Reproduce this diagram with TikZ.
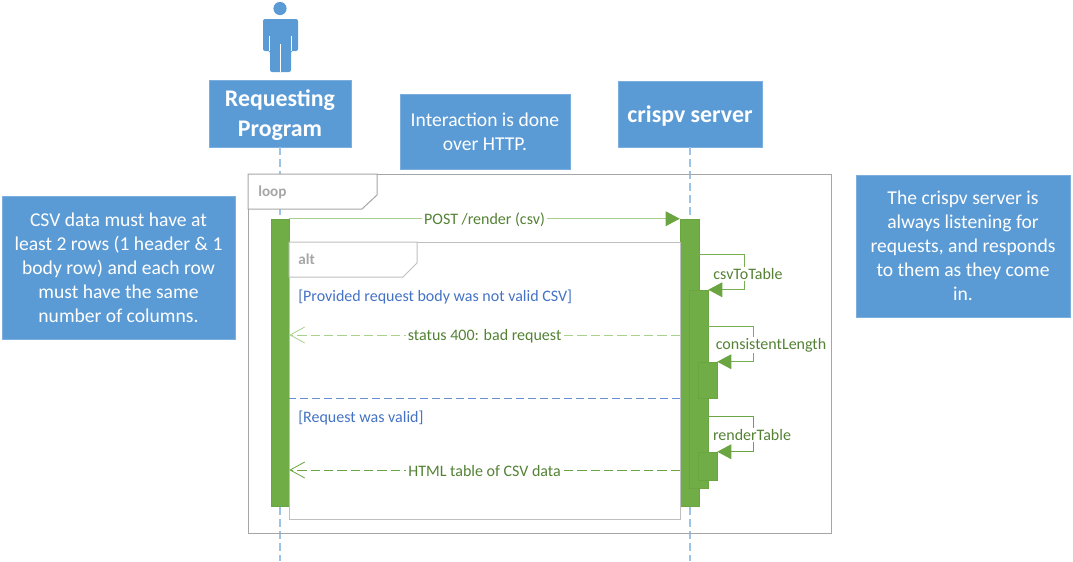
\documentclass[tikz,border=0pt]{standalone}
\usepackage{fontspec}
\setmainfont{Carlito}
\usetikzlibrary{fit,calc,arrows.meta}
\definecolor{noteblue}{RGB}{91,155,213}
\definecolor{lifeblue}{RGB}{157,195,230}
\definecolor{barGreen}{RGB}{112,173,71}
\definecolor{tipGreen}{RGB}{106,165,66}
\definecolor{msgGreen}{RGB}{169,209,142}
\definecolor{msgText}{RGB}{84,130,53}
\definecolor{guardBlue}{RGB}{68,114,196}
\definecolor{frameGray}{RGB}{166,166,166}
\newcommand\spanbox[4][bar]{
  \path (#2) coordinate (#4-a) (#3) coordinate (#4-b);
  \node[#1, fit={(#4-a) (#4-b)}] (#4) {};
}
\newcommand\notebox[5][notetext]{
  \path (#2) coordinate (#5-a) (#3) coordinate (#5-b);
  \node[note, fit={(#5-a) (#5-b)}, label={[#1]center:{#4}}] (#5) {};
}

\begin{document}
\begin{tikzpicture}[x=0.75pt,y=-0.75pt,
    note/.style={
      fill=noteblue,
      draw=noteblue!80!white,
      inner sep=0pt
    },
    notetext/.style={
      align=center,
      text=white,
      font={\fontsize{14.7}{18}\selectfont}
    },
    headtext/.style={
      align=center,
      text=white,
      yshift=-1.5pt,
      font={\bfseries\fontsize{17.9}{22.5}\selectfont}
    },
    lifeline/.style={draw=lifeblue,line width=1pt,dash pattern=on 6pt off 3pt},
    frame/.style={draw=#1,line width=0.75pt,inner sep=0pt},
    frame/.default=frameGray,
    tab/.style={draw=#1,line width=0.75pt,fill=white},
    tab/.default=frameGray,
    tablabel/.style={text=frameGray,anchor=west,inner sep=0pt,font={\bfseries\fontsize{11.4}{13}\selectfont}},
    bar/.style={fill=barGreen,draw=tipGreen,line width=0.4pt,inner sep=0pt},
    msg/.style={draw=#1,line width=0.75pt},
    msg/.default=msgGreen,
    msglabel/.style={fill=white,text=msgText,inner sep=1.5pt,yshift=-0.75pt,font={\fontsize{12}{14}\selectfont}},
    guard/.style={text=guardBlue,anchor=west,inner sep=0pt,font={\fontsize{12}{14}\selectfont}},
    filled/.style={-{Triangle[length=10.5pt,width=11pt,color=tipGreen]}},
    open/.style={-{Straight Barb[length=11pt,width=12pt,line width=0.6pt]}}
  ]
  \useasboundingbox (0,0) rectangle (1073,561);

  % actor
  \fill[noteblue] (280,8.5) circle (6.6);
  \fill[noteblue,rounded corners=1.5pt] (263,51) -- (263,19) -- (298,19) -- (298,51) -- (291,51) -- (291,72) -- (270,72) -- (270,51) -- cycle;
  \draw[white,line width=0.5pt] (269.5,36) -- (269.5,51) (291,36) -- (291,51) (280.5,44) -- (280.5,72);

  % heads and notes
  \notebox[headtext]{209,80}{351,147}{Requesting\\Program}{requester}
  \notebox[headtext]{618,81}{762,147}{crispv server}{server}
  \notebox{400,94}{570,169}{Interaction is done\\over HTTP.}{httpnote}
  \notebox{2,196}{235,339}{CSV data must have at\\least 2 rows (1 header \& 1\\body row) and each row\\must have the same\\number of columns.}{csvnote}
  \notebox{856,175}{1070,317}{The crispv server is\\always listening for\\requests, and responds\\to them as they come\\in.}{listennote}

  % lifelines
  \coordinate (requester-end) at (280,561);
  \coordinate (server-end) at (690,561);
  \draw[lifeline] (requester.south) -- (requester-end);
  \draw[lifeline] (server.south) -- (server-end);

  % loop
  \spanbox[frame]{248,174}{831,533}{loopframe}
  \draw[tab] (248,174) -- (377,174) -- (377,195) -- (362,209) -- (248,209) -- cycle;
  \node[tablabel] (looplabel) at (258,192) {loop};

  % activations
  \spanbox{271,219}{289,506}{requester-bar}
  \spanbox{680,219}{699,506}{server-bar}
  \spanbox{689,290}{708,488}{table-bar}
  \spanbox{698,362}{717,398}{length-bar}
  \spanbox{698,452}{717,480}{render-bar}

  % alt
  \spanbox[frame=black!25]{289,242}{680,519}{altframe}
  \draw[tab=black!25] (289,242) -- (417,242) -- (417,263) -- (403,277) -- (289,277) -- cycle;
  \node[tablabel] (altlabel) at (298,259) {alt};
  \node[guard] (badguard) at (298,296.5) {[Provided request body was not valid CSV]};
  \node[guard] (okguard) at (298,417.5) {[Request was valid]};
  \coordinate (alt-split) at (680,398);
  \draw[guardBlue!80!white,line width=0.75pt,dash pattern=on 6pt off 3pt] (alt-split) -- (alt-split -| altframe.west);

  % request and replies
  \draw[msg,filled] (requester-bar.north east) -- node[msglabel] (postlabel) {POST /render (csv)} (server-bar.north west);
  \coordinate (status-from) at (680,335);
  \coordinate (html-from) at (680,470);
  \draw[msg,dash pattern=on 7pt off 3pt,open] (status-from) -- node[msglabel] (statuslabel) {status 400: bad request} (status-from -| requester-bar.east);
  \draw[msg=tipGreen,dash pattern=on 7pt off 3pt,open] (html-from) -- node[msglabel] (htmllabel) {HTML table of CSV data} (html-from -| requester-bar.east);

  % self calls
  \coordinate (csv-from) at (699,254);
  \coordinate (length-from) at (708,326);
  \coordinate (render-from) at (708,416);
  \draw[msg=tipGreen!80!msgGreen,filled] (csv-from) -- ++(45,0) |- (table-bar.north east);
  \draw[msg=tipGreen!80!msgGreen,filled] (length-from) -- ++(45,0) |- (length-bar.north east);
  \draw[msg=tipGreen,filled] (render-from) -- ++(45,0) |- (render-bar.north east);
  \node[msglabel,inner sep=1pt] (csvlabel) at (748,273) {csvToTable};
  \node[msglabel,inner sep=1pt] (lengthlabel) at (771,344) {consistentLength};
  \node[msglabel,inner sep=1pt] (renderlabel) at (752,434) {renderTable};
\end{tikzpicture}
\end{document}
